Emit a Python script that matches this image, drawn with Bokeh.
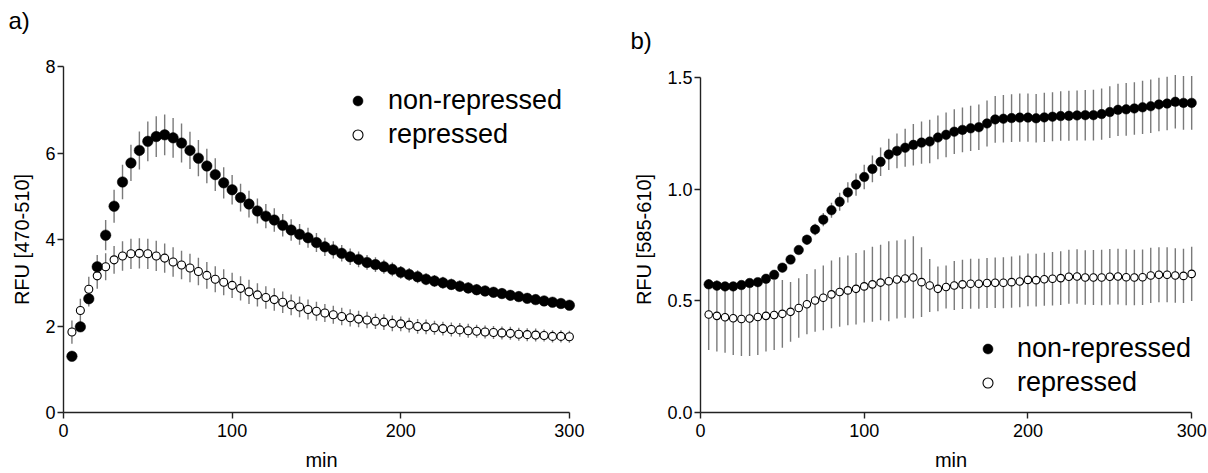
from bokeh.plotting import figure
from bokeh.layouts import row
from bokeh.models import Range1d, Legend, LegendItem, FixedTicker, Title
from bokeh.embed import file_html
from bokeh.resources import INLINE

# ---------------- data ----------------
minutes = [5 * (i + 1) for i in range(60)]

# panel a) RFU [470-510]
a_nonrep = [1.30, 1.98, 2.63, 3.37, 4.10, 4.77, 5.33, 5.77, 6.06, 6.27,
            6.38, 6.42, 6.35, 6.23, 6.06, 5.88, 5.70, 5.50, 5.31, 5.15,
            4.97, 4.82, 4.66, 4.54, 4.45, 4.33, 4.22, 4.12, 4.04, 3.93,
            3.83, 3.76, 3.68, 3.60, 3.54, 3.47, 3.42, 3.37, 3.31, 3.24,
            3.19, 3.14, 3.08, 3.04, 3.00, 2.96, 2.92, 2.88, 2.84, 2.81,
            2.78, 2.75, 2.71, 2.68, 2.64, 2.61, 2.58, 2.55, 2.52, 2.48]
a_nonrep_sd = [0.05, 0.10, 0.18, 0.27, 0.35, 0.38, 0.40, 0.42, 0.44, 0.46,
               0.47, 0.47, 0.46, 0.45, 0.43, 0.42, 0.40, 0.38, 0.36, 0.34,
               0.32, 0.31, 0.29, 0.28, 0.27, 0.26, 0.25, 0.24, 0.23, 0.22,
               0.21, 0.20, 0.19, 0.19, 0.18, 0.17, 0.17, 0.16, 0.16, 0.15,
               0.15, 0.15, 0.14, 0.14, 0.14, 0.13, 0.13, 0.13, 0.13, 0.12,
               0.12, 0.12, 0.12, 0.12, 0.12, 0.11, 0.11, 0.11, 0.11, 0.11]
a_rep = [1.86, 2.36, 2.85, 3.16, 3.37, 3.53, 3.62, 3.67, 3.68, 3.67,
         3.62, 3.57, 3.48, 3.41, 3.34, 3.26, 3.17, 3.08, 3.01, 2.94,
         2.87, 2.79, 2.72, 2.66, 2.61, 2.55, 2.49, 2.44, 2.38, 2.34,
         2.30, 2.26, 2.22, 2.19, 2.16, 2.14, 2.11, 2.09, 2.06, 2.05,
         2.02, 1.99, 1.98, 1.96, 1.94, 1.92, 1.91, 1.89, 1.88, 1.86,
         1.85, 1.84, 1.83, 1.81, 1.80, 1.79, 1.78, 1.76, 1.76, 1.75]
a_rep_sd = [0.27, 0.27, 0.29, 0.30, 0.31, 0.32, 0.34, 0.35, 0.35, 0.35,
            0.35, 0.34, 0.34, 0.33, 0.33, 0.32, 0.31, 0.30, 0.30, 0.29,
            0.28, 0.28, 0.27, 0.26, 0.26, 0.25, 0.24, 0.24, 0.23, 0.22,
            0.21, 0.21, 0.20, 0.20, 0.19, 0.19, 0.18, 0.18, 0.18, 0.17,
            0.17, 0.17, 0.17, 0.16, 0.16, 0.16, 0.16, 0.16, 0.15, 0.15,
            0.15, 0.15, 0.15, 0.15, 0.15, 0.15, 0.14, 0.14, 0.14, 0.14]

# panel b) RFU [585-610]
b_nonrep = [0.574, 0.568, 0.565, 0.565, 0.571, 0.580, 0.584, 0.599, 0.617, 0.649,
            0.685, 0.728, 0.774, 0.820, 0.864, 0.906, 0.944, 0.986, 1.021, 1.055,
            1.091, 1.123, 1.156, 1.172, 1.186, 1.199, 1.209, 1.214, 1.232, 1.244,
            1.258, 1.266, 1.273, 1.278, 1.295, 1.313, 1.316, 1.319, 1.321, 1.321,
            1.318, 1.322, 1.325, 1.328, 1.329, 1.331, 1.332, 1.332, 1.337, 1.346,
            1.356, 1.358, 1.362, 1.367, 1.372, 1.380, 1.384, 1.392, 1.387, 1.387]
b_nonrep_sd = [0.005, 0.005, 0.005, 0.005, 0.006, 0.006, 0.007, 0.008, 0.010, 0.012,
               0.015, 0.018, 0.022, 0.026, 0.030, 0.034, 0.040, 0.045, 0.050, 0.055,
               0.060, 0.064, 0.070, 0.078, 0.085, 0.093, 0.095, 0.097, 0.098, 0.100,
               0.100, 0.100, 0.101, 0.102, 0.103, 0.105, 0.106, 0.107, 0.108, 0.108,
               0.109, 0.110, 0.110, 0.111, 0.112, 0.112, 0.113, 0.114, 0.115, 0.116,
               0.117, 0.118, 0.118, 0.119, 0.120, 0.120, 0.120, 0.120, 0.120, 0.120]
b_rep = [0.439, 0.433, 0.427, 0.422, 0.419, 0.421, 0.428, 0.433, 0.437, 0.442,
         0.451, 0.468, 0.485, 0.502, 0.514, 0.529, 0.540, 0.547, 0.554, 0.565,
         0.574, 0.582, 0.588, 0.596, 0.600, 0.605, 0.584, 0.569, 0.554, 0.562,
         0.569, 0.574, 0.577, 0.577, 0.580, 0.581, 0.581, 0.584, 0.587, 0.594,
         0.593, 0.597, 0.599, 0.602, 0.608, 0.609, 0.605, 0.605, 0.605, 0.608,
         0.609, 0.606, 0.605, 0.606, 0.614, 0.617, 0.617, 0.614, 0.612, 0.621]
b_rep_sd = [0.159, 0.160, 0.159, 0.164, 0.166, 0.168, 0.170, 0.160, 0.157, 0.152,
            0.134, 0.133, 0.135, 0.140, 0.145, 0.152, 0.156, 0.156, 0.160, 0.162,
            0.168, 0.169, 0.179, 0.175, 0.175, 0.184, 0.156, 0.119, 0.100, 0.096,
            0.110, 0.110, 0.112, 0.112, 0.112, 0.113, 0.114, 0.115, 0.116, 0.118,
            0.118, 0.119, 0.120, 0.120, 0.121, 0.122, 0.122, 0.123, 0.124, 0.125,
            0.125, 0.125, 0.124, 0.124, 0.124, 0.123, 0.123, 0.122, 0.122, 0.122]

series_names = ["non-repressed", "repressed"]
font = "Liberation Sans"


def make_panel(tag, ylab, y_top, y_end, yticks, nonrep, nonrep_sd, rep, rep_sd,
               left, right, legend_loc, legend_standoff, tag_offset, gap,
               fmt_decimal, big_size, small_size):
    p = figure(width=604, height=473, output_backend="svg", toolbar_location=None,
               x_range=Range1d(0, 306), y_range=Range1d(0, y_end))
    p.min_border_left = left
    p.min_border_right = right
    p.min_border_top = 66
    p.min_border_bottom = 59
    p.outline_line_color = None
    p.grid.visible = False
    p.background_fill_color = "white"
    p.border_fill_color = "white"

    lo_n = [v - s for v, s in zip(nonrep, nonrep_sd)]
    hi_n = [v + s for v, s in zip(nonrep, nonrep_sd)]
    lo_r = [v - s for v, s in zip(rep, rep_sd)]
    hi_r = [v + s for v, s in zip(rep, rep_sd)]

    p.segment(x0=minutes, x1=minutes, y0=lo_r, y1=hi_r, line_color="#7a7a7a", line_width=1.4)
    p.segment(x0=minutes, x1=minutes, y0=lo_n, y1=hi_n, line_color="#7a7a7a", line_width=1.4)

    r_rep = p.scatter(minutes, rep, size=small_size, fill_color="white",
                      line_color="black", line_width=1.1)
    r_non = p.scatter(minutes, nonrep, size=big_size, fill_color="black",
                      line_color="black", line_width=0.5)

    for ax in (p.xaxis[0], p.yaxis[0]):
        ax.axis_line_width = 1.4
        ax.axis_line_color = "#222222"
        ax.major_tick_line_color = "#222222"
        ax.major_tick_line_width = 1.4
        ax.major_tick_out = 6
        ax.major_tick_in = 0
        ax.minor_tick_line_color = None
        ax.major_label_text_font = font
        ax.major_label_text_font_size = "18px"
        ax.major_label_text_color = "black"
        ax.axis_label_text_font = font
        ax.axis_label_text_font_size = "20px"
        ax.axis_label_text_font_style = "normal"
        ax.axis_label_text_color = "black"
    p.xaxis[0].bounds = (0, 300)
    p.xaxis[0].ticker = FixedTicker(ticks=[0, 100, 200, 300])
    p.xaxis[0].axis_label = "min"
    p.xaxis[0].major_label_standoff = 5
    p.xaxis[0].axis_label_standoff = 9
    p.yaxis[0].bounds = (0, y_top)
    p.yaxis[0].ticker = FixedTicker(ticks=yticks)
    p.yaxis[0].axis_label = ylab
    p.yaxis[0].major_label_standoff = 2
    p.yaxis[0].axis_label_standoff = 9
    if fmt_decimal:
        p.yaxis[0].major_label_overrides = {t: f"{t:.1f}" for t in yticks}

    legend = Legend(items=[LegendItem(label=series_names[0], renderers=[r_non]),
                           LegendItem(label=series_names[1], renderers=[r_rep])],
                    location=legend_loc)
    legend.border_line_color = None
    legend.background_fill_alpha = 0
    legend.label_text_font = font
    legend.label_text_font_size = "27px"
    legend.label_text_color = "black"
    legend.glyph_width = 25
    legend.glyph_height = 25
    legend.label_standoff = legend_standoff
    legend.padding = 0
    legend.margin = 0
    legend.spacing = 3
    p.add_layout(legend)

    p.title = None
    # spacer slot between the frame and the panel tag
    p.add_layout(Title(text=" ", text_font_size="1px", standoff=gap), "above")
    p.add_layout(Title(text=tag, align="left", offset=tag_offset, standoff=0,
                       text_font=font, text_font_size="24px", text_font_style="normal",
                       text_color="black"), "above")
    return p


pa = make_panel("a)", "RFU [470-510]", 8, 8, [0, 2, 4, 6, 8],
                a_nonrep, a_nonrep_sd, a_rep, a_rep_sd,
                63, 25, (282, 262), 18, -55, 30, False, 10.5, 8)
pb = make_panel("b)", "RFU [585-610]", 1.5, 1.55, [0, 0.5, 1.0, 1.5],
                b_nonrep, b_nonrep_sd, b_rep, b_rep_sd,
                96, 7, (275, 14), 17, -70, 10, True, 9.5, 7.5)

layout = row(pa, pb)
open("out.html", "w").write(file_html(layout, INLINE))
